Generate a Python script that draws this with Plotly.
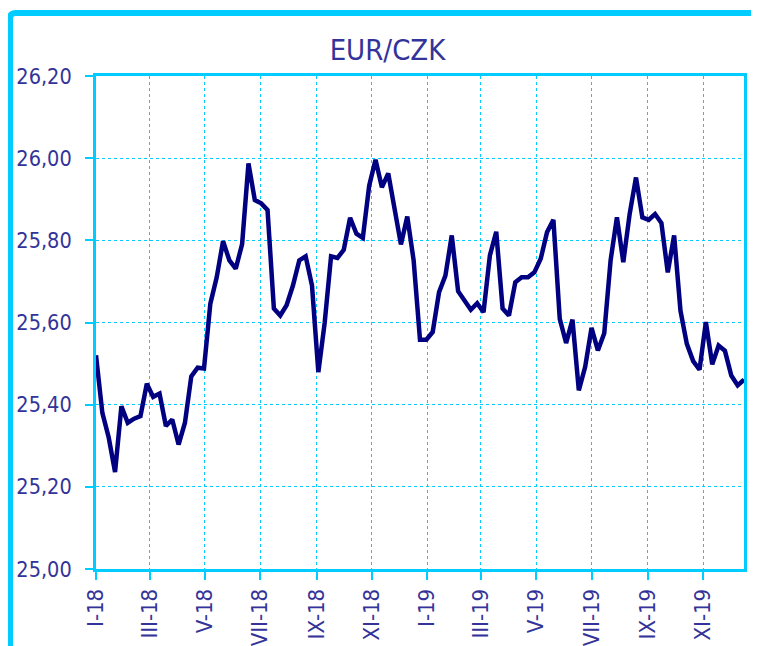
import plotly.graph_objects as go
import pandas as pd

# weekly EUR/CZK, Jan 2018 - Dec 2019
dates = pd.date_range("2018-01-01", periods=103, freq="7D")
eur_czk = [
    25.52, 25.38, 25.32, 25.236, 25.396, 25.356, 25.366, 25.372, 25.451, 25.419,
    25.427, 25.348, 25.364, 25.303, 25.356, 25.469, 25.49, 25.488, 25.646, 25.71,
    25.798, 25.751, 25.731, 25.791, 25.987, 25.898, 25.89, 25.874, 25.634, 25.617,
    25.642, 25.69, 25.751, 25.761, 25.69, 25.479, 25.60, 25.761, 25.757, 25.777,
    25.855, 25.816, 25.806, 25.933, 25.996, 25.929, 25.963, 25.868, 25.79, 25.858,
    25.751, 25.558, 25.558, 25.577, 25.674, 25.714, 25.812, 25.676, 25.655, 25.631,
    25.647, 25.625, 25.763, 25.821, 25.634, 25.617, 25.698, 25.71, 25.71, 25.722,
    25.755, 25.82, 25.85, 25.609, 25.55, 25.607, 25.435, 25.492, 25.587, 25.532,
    25.574, 25.751, 25.856, 25.747, 25.864, 25.953, 25.856, 25.85, 25.864, 25.842,
    25.722, 25.812, 25.629, 25.548, 25.506, 25.485, 25.601, 25.498, 25.544, 25.531,
    25.471, 25.447, 25.461,
]

tick_dates = ["2018-01-01", "2018-03-01", "2018-05-01", "2018-07-01", "2018-09-01", "2018-11-01",
              "2019-01-01", "2019-03-01", "2019-05-01", "2019-07-01", "2019-09-01", "2019-11-01"]
tick_labels = ["I-18", "III-18", "V-18", "VII-18", "IX-18", "XI-18",
               "I-19", "III-19", "V-19", "VII-19", "IX-19", "XI-19"]

cyan = "#00CCFF"
text_col = "#333399"
font = "Liberation Sans Narrow, DejaVu Sans Condensed, Arial Narrow, sans-serif"

fig = go.Figure()
fig.add_trace(go.Scatter(x=dates, y=eur_czk, mode="lines",
                         line=dict(color="#000080", width=4.5), showlegend=False))

# the page body adds 8px, margins are set so the plot box lands where it should
fig.update_layout(
    width=759, height=646,
    margin=dict(l=88, r=23, t=68, b=85, autoexpand=False),
    paper_bgcolor="white", plot_bgcolor="white",
    separators=", ",
    font=dict(family=font, color=text_col, size=22),
    title=dict(text="EUR/CZK", x=0.5, xref="container", xanchor="center",
               y=0.935, yref="container", yanchor="middle", automargin=False,
               font=dict(family=font, size=29, color=text_col)),
)

fig.update_xaxes(
    range=["2018-01-01", "2019-12-16"], automargin=False,
    tickvals=tick_dates, ticktext=tick_labels, tickangle=-90,
    ticks="outside", ticklen=8, tickcolor=cyan, tickwidth=2,
    showline=True, linecolor=cyan, linewidth=3, mirror=True,
    showgrid=True, gridcolor=cyan, gridwidth=1, griddash="dot",
    tickfont=dict(size=22, color=text_col),
)
fig.update_yaxes(
    range=[25.0, 26.2], dtick=0.2, tick0=25.0, tickformat=".2f", automargin=False,
    ticks="outside", ticklen=8, tickcolor=cyan, tickwidth=2,
    ticklabelstandoff=9,
    showline=True, linecolor=cyan, linewidth=3, mirror=True,
    showgrid=True, gridcolor=cyan, gridwidth=1, griddash="dot",
    zeroline=False,
    tickfont=dict(size=21.5, color=text_col),
)

# outer frame: thick cyan line on top and left
fig.add_shape(type="path", xref="paper", yref="paper",
              path="M -0.1327,-0.2 L -0.1327,1.118 Q -0.1327,1.1278 -0.124,1.1278 L 1.05,1.1278",
              line=dict(color=cyan, width=6))

fig.write_html("out.html")
